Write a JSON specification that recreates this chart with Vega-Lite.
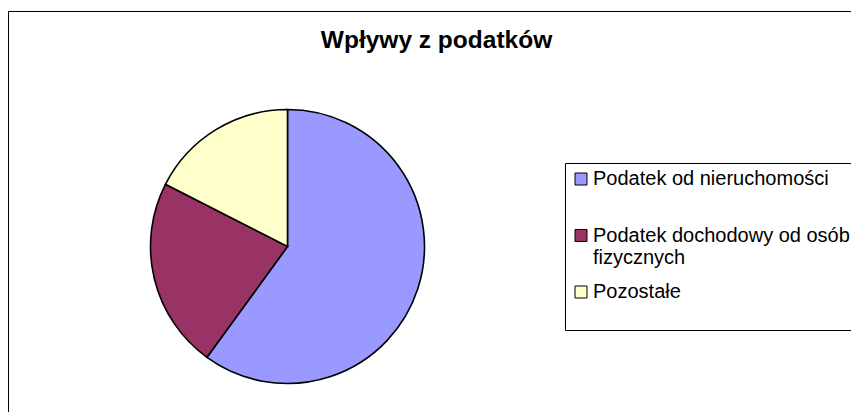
{
  "$schema": "https://vega.github.io/schema/vega-lite/v6.json",
  "width": 843,
  "height": 401,
  "autosize": {"type": "none"},
  "padding": {"left": 8, "top": 11, "right": 0, "bottom": 0},
  "background": "white",
  "view": {"stroke": "black", "strokeWidth": 1, "fill": "white"},
  "title": {
    "text": "Wpływy z podatków",
    "font": "Liberation Sans",
    "fontSize": 24.5,
    "fontWeight": "bold",
    "color": "black",
    "anchor": "middle",
    "frame": "group",
    "offset": -42,
    "dx": 7
  },
  "data": {
    "values": [
      {"kategoria": "Podatek od nieruchomości", "udzial": 60.0, "kolejnosc": 1},
      {"kategoria": "Podatek dochodowy od osób fizycznych", "udzial": 22.5, "kolejnosc": 2},
      {"kategoria": "Pozostałe", "udzial": 17.5, "kolejnosc": 3}
    ]
  },
  "mark": {
    "type": "arc",
    "outerRadius": 137,
    "x": 279.5,
    "y": 235.5,
    "stroke": "black",
    "strokeWidth": 1.6
  },
  "encoding": {
    "theta": {"field": "udzial", "type": "quantitative", "stack": true},
    "order": {"field": "kolejnosc", "type": "ordinal"},
    "color": {
      "field": "kategoria",
      "type": "nominal",
      "sort": ["Podatek od nieruchomości", "Podatek dochodowy od osób fizycznych", "Pozostałe"],
      "scale": {
        "domain": ["Podatek od nieruchomości", "Podatek dochodowy od osób fizycznych", "Pozostałe"],
        "range": ["#9999FF", "#993366", "#FFFFCC"]
      },
      "legend": {
        "orient": "none",
        "legendX": 557,
        "legendY": 152,
        "title": " ",
        "titleOrient": "bottom",
        "titleFontSize": 16,
        "titlePadding": 6,
        "strokeColor": "black",
        "fillColor": "white",
        "padding": 6,
        "symbolType": "square",
        "symbolSize": 144,
        "symbolStrokeColor": "black",
        "symbolStrokeWidth": 1,
        "symbolOpacity": 1,
        "labelFont": "Liberation Sans",
        "labelFontSize": 20,
        "labelLineHeight": 21,
        "labelColor": "black",
        "labelLimit": 400,
        "labelOffset": 2,
        "rowPadding": 14.5,
        "labelExpr": "datum.label == 'Podatek dochodowy od osób fizycznych' ? ['Podatek dochodowy od osób', 'fizycznych'] : (datum.label == 'Podatek od nieruchomości' ? ['Podatek od nieruchomości', ''] : datum.label)"
      }
    }
  },
  "config": {
    "view": {"stroke": "black", "strokeWidth": 1},
    "font": "Liberation Sans"
  }
}
